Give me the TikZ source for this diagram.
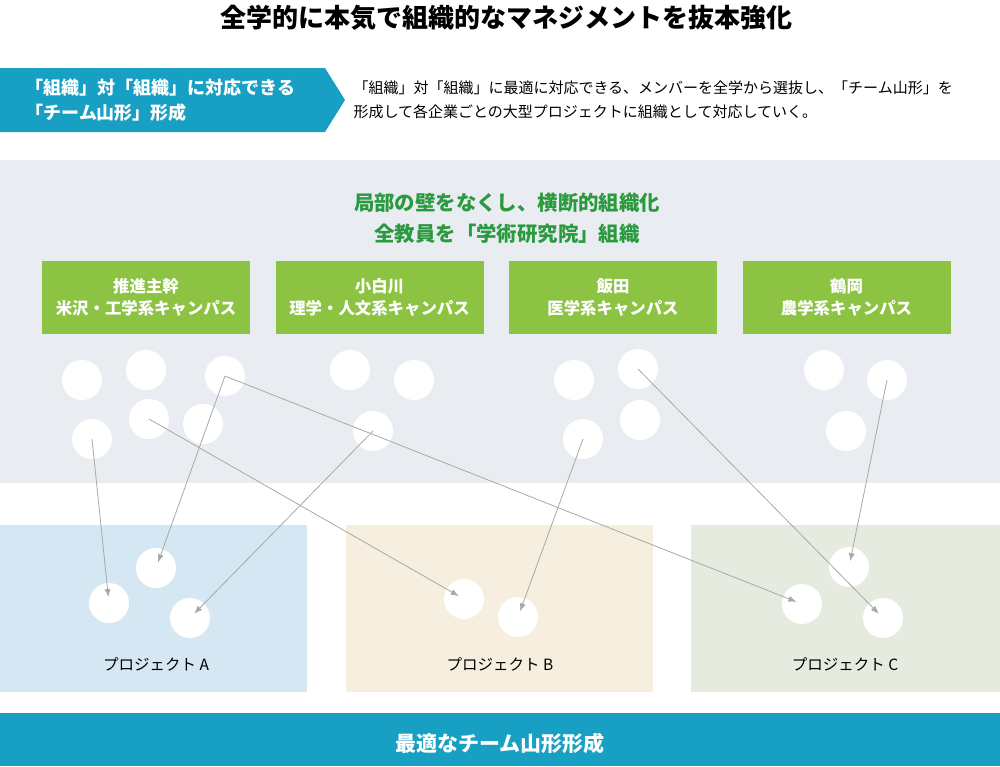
\documentclass[tikz,border=0pt]{standalone}
\usepackage{fontspec}
\setmainfont{Noto Sans CJK JP}
\usetikzlibrary{arrows.meta}
\definecolor{teal}{HTML}{18A0C4}
\definecolor{band}{HTML}{E9EDF2}
\definecolor{gtxt}{HTML}{2B9A3E}
\definecolor{gbox}{HTML}{8CC342}
\definecolor{pa}{HTML}{D5E7F2}
\definecolor{pb}{HTML}{F6EFE0}
\definecolor{pc}{HTML}{E5ECDF}
\definecolor{arr}{HTML}{A8A8A8}
\tikzset{
 dot/.style={circle,fill=white,minimum size=40pt,inner sep=0pt},
 campus/.style={fill=gbox,text=white,font=\fontsize{16.4}{22}\selectfont\bfseries,align=center,minimum width=208pt,minimum height=73pt,inner sep=0pt},
 plabel/.style={font=\fontsize{15.5}{17}\selectfont},
 link/.style={draw=arr,line width=0.8pt,-{Latex[length=8pt,width=6pt]},shorten >=6pt}
}
\begin{document}
\begin{tikzpicture}[x=1pt,y=-1pt]
\useasboundingbox (0,0) rectangle (1000,766);
\node (title) at (506,18) {\fontsize{26}{30}\selectfont\bfseries 全学的に本気で組織的なマネジメントを抜本強化};
\fill[teal] (0,68) -- (325,68) -- (345,100) -- (325,132) -- (0,132) -- cycle;
\node[anchor=west,text=white,align=left,font=\fontsize{18}{25}\selectfont\bfseries] (ban) at (22,100) {「組織」対「組織」に対応できる\\「チーム山形」形成};
\node[anchor=west,align=left,font=\fontsize{15}{24}\selectfont] (desc) at (350,100) {「組織」対「組織」に最適に対応できる、メンバーを全学から選抜し、「チーム山形」を\\形成して各企業ごとの大型プロジェクトに組織として対応していく。};
\fill[band] (0,160) rectangle (1000,483);
\node[text=gtxt,align=center,font=\fontsize{20.4}{31}\selectfont\bfseries] (head) at (507,218) {局部の壁をなくし、横断的組織化\\全教員を「学術研究院」組織};
\node[campus] (k1) at (146,297.5) {推進主幹\\米沢・工学系キャンパス};
\node[campus] (k2) at (379.5,297.5) {小白川\\理学・人文系キャンパス};
\node[campus] (k3) at (613,297.5) {飯田\\医学系キャンパス};
\node[campus] (k4) at (846.5,297.5) {鶴岡\\農学系キャンパス};
\fill[pa] (0,525) rectangle (307,692);
\fill[pb] (346,525) rectangle (653,692);
\fill[pc] (691,525) rectangle (1000,692);
\node[plabel] (la) at (156,664) {プロジェクト A};
\node[plabel] (lb) at (500,664) {プロジェクト B};
\node[plabel] (lc) at (845,664) {プロジェクト C};
\fill[teal] (0,713) rectangle (1000,766);
\node[text=white,font=\fontsize{21}{24}\selectfont\bfseries] (foot) at (500,743) {最適なチーム山形形成};
% top circles
\node[dot] (a1) at (82,380) {};
\node[dot] (a2) at (146,370) {};
\node[dot] (a3) at (225,376) {};
\node[dot] (a4) at (92,439) {};
\node[dot] (a5) at (149,419) {};
\node[dot] (a6) at (203,424) {};
\node[dot] (b1) at (350,370) {};
\node[dot] (b2) at (414,380) {};
\node[dot] (b3) at (373,431) {};
\node[dot] (c1) at (574,380) {};
\node[dot] (c2) at (638,369) {};
\node[dot] (c3) at (583,439) {};
\node[dot] (c4) at (640,420) {};
\node[dot] (d1) at (824,370) {};
\node[dot] (d2) at (887,380) {};
\node[dot] (d3) at (846,431) {};
% bottom circles
\node[dot] (pa1) at (156,568) {};
\node[dot] (pa2) at (109,603) {};
\node[dot] (pa3) at (190,618) {};
\node[dot] (pb1) at (464,599) {};
\node[dot] (pb2) at (518,617) {};
\node[dot] (pc1) at (849,567) {};
\node[dot] (pc2) at (802,604) {};
\node[dot] (pc3) at (883,618) {};
% links
\draw[link] (a4.center) -- (pa2.center);
\draw[link] (a3.center) -- (pa1.center);
\draw[link] (b3.center) -- (pa3.center);
\draw[link] (a5.center) -- (pb1.center);
\draw[link] (a3.center) -- (pc2.center);
\draw[link] (c3.center) -- (pb2.center);
\draw[link] (c2.center) -- (pc3.center);
\draw[link] (d2.center) -- (pc1.center);
\end{tikzpicture}
\end{document}
